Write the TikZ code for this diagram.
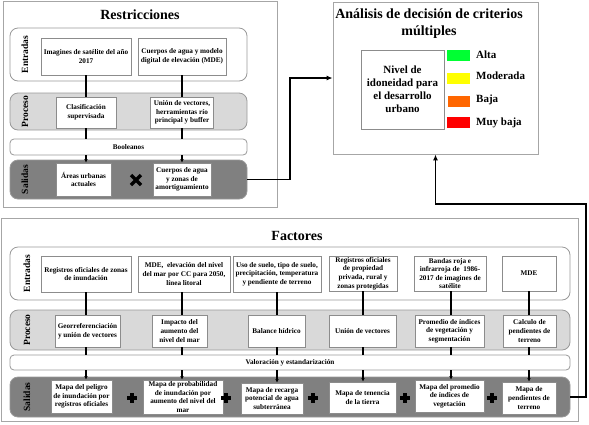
\documentclass[tikz,border=0pt]{standalone}
\usepackage{fontspec}
\setmainfont{Liberation Serif}
\usetikzlibrary{arrows.meta}
\begin{document}
\begin{tikzpicture}[x=1pt,y=-1pt,
  every node/.style={font=\bfseries},
  sm/.style={font=\fontsize{7.2}{8.6}\selectfont\bfseries, align=center},
  outerbox/.style={draw=black!35, line width=0.8pt, inner sep=0},
  band/.style={draw=black!40, line width=0.8pt, rounded corners=8pt, inner sep=0},
  entb/.style={band, fill=white},
  procb/.style={band, fill=black!15},
  salb/.style={band, fill=black!50},
  midb/.style={band, rounded corners=4pt, fill=white, sm},
  inbox/.style={draw=black!45, fill=white, line width=0.8pt, inner sep=1pt, sm},
  lab/.style={rotate=90, font=\fontsize{9.5}{11}\selectfont\bfseries},
  ttl/.style={font=\fontsize{14}{17}\selectfont\bfseries, align=center},
  mid/.style={font=\fontsize{11}{13}\selectfont\bfseries, align=center},
  swatch/.style={minimum width=23, minimum height=11, inner sep=0},
  link/.style={line width=1.2pt},
  arr/.style={line width=1.2pt, -{Latex[length=3.5pt,width=3.5pt]}},
  bigarr/.style={line width=1.5pt, -{Latex[length=6pt,width=5pt]}},
  sym/.style={line width=3.3pt},
]
\useasboundingbox (0,0) rectangle (589,424);

% ---------------- Restricciones ----------------
\node[outerbox, minimum width=274, minimum height=206] (R) at (140,104) {};
\node[ttl] (Rt) at (140,15) {Restricciones};
\node[entb, minimum width=237, minimum height=53] (REnt) at (128.5,54.5) {};
\node[procb, minimum width=237, minimum height=37] (RPro) at (128.5,111.5) {};
\node[midb, minimum width=237, minimum height=16] (RBool) at (128.5,147) {Booleanos};
\node[salb, minimum width=237, minimum height=39] (RSal) at (128.5,179.5) {};
\node[lab] (RlE) at (25,54.5) {Entradas};
\node[lab] (RlP) at (25,111.5) {Proceso};
\node[lab] (RlS) at (25,179.5) {Salidas};

\node[inbox, minimum width=90, minimum height=37] (RE1) at (86,56.5) {Imagines de satélite del año\\2017};
\node[inbox, minimum width=88, minimum height=37] (RE2) at (182,56.5) {Cuerpos de agua y modelo\\digital de elevación (MDE)};
\node[inbox, minimum width=60, minimum height=31] (RP1) at (86,112.5) {Clasificación\\supervisada};
\node[inbox, minimum width=63, minimum height=31] (RP2) at (182,112.5) {Unión de vectores,\\herramientas río\\principal y buffer};
\node[inbox, minimum width=55, minimum height=33] (RS1) at (83.5,179.5) {Áreas urbanas\\actuales};
\node[inbox, minimum width=58, minimum height=33] (RS2) at (182,179.5) {Cuerpos de agua\\y zonas de\\amortiguamiento};

\foreach \a/\b/\c in {RE1/RP1/RS1, RE2/RP2/RS2} {
  \draw[link] (\a.south) -- (\b.north);
  \draw[link] (\b.south) -- (\b.south |- RBool.north);
  \draw[arr] (\b.south |- RBool.south) -- (\b.south |- \c.north);
}
\draw[sym] (131,175) -- (141,185) (131,185) -- (141,175);

% ---------------- ADCM ----------------
\node[outerbox, minimum width=205, minimum height=152] (A) at (435.5,78) {};
\node[ttl] (At) at (429,23.5) {Análisis de decisión de criterios\\múltiples};
\node[draw=black!45, line width=0.8pt, mid, minimum width=83, minimum height=79, inner sep=0] (N) at (402.5,89.5) {Nivel de\\idoneidad para\\el desarrollo\\urbano};
\node[swatch, fill={rgb,255:red,0;green,255;blue,51}] (g) at (458.5,55.5) {};
\node[swatch, fill={rgb,255:red,255;green,255;blue,0}] (y) at (458.5,78) {};
\node[swatch, fill={rgb,255:red,255;green,102;blue,0}, minimum width=22] (o) at (459,101) {};
\node[swatch, fill={rgb,255:red,255;green,0;blue,0}] (r) at (458.5,122.5) {};
\node[mid, anchor=west, inner sep=0] (ga) at (476,55) {Alta};
\node[mid, anchor=west, inner sep=0] (ya) at (476,76) {Moderada};
\node[mid, anchor=west, inner sep=0] (oa) at (476,100) {Baja};
\node[mid, anchor=west, inner sep=0] (ra) at (476,123) {Muy baja};

% ---------------- Factores ----------------
\node[outerbox, minimum width=577, minimum height=203] (F) at (289.5,319.5) {};
\node[ttl] (Ft) at (297,236) {Factores};
\node[entb, minimum width=560, minimum height=53] (FEnt) at (290,273.5) {};
\node[procb, minimum width=560, minimum height=40] (FPro) at (290,330) {};
\node[midb, minimum width=560, minimum height=15] (FVal) at (290,362.5) {Valoración y estandarización};
\node[salb, minimum width=560, minimum height=40] (FSal) at (290,397) {};
\node[lab] (FlE) at (27,273.5) {Entradas};
\node[lab] (FlP) at (27,330) {Proceso};
\node[lab] (FlS) at (27,397) {Salidas};

\node[inbox, minimum width=90, minimum height=36] (FE1) at (86,274) {Registros oficiales de zonas\\de inundación};
\node[inbox, minimum width=92, minimum height=36] (FE2) at (184,274) {MDE,\ \ elevación del nivel\\del mar por CC para 2050,\\línea litoral};
\node[inbox, minimum width=88, minimum height=36] (FE3) at (277,274) {Uso de suelo, tipo de suelo,\\precipitación, temperatura\\y pendiente de terreno};
\node[inbox, minimum width=68, minimum height=35] (FE4) at (363,273.5) {Registros oficiales\\de propiedad\\privada, rural y\\zonas protegidas};
\node[inbox, minimum width=72, minimum height=35] (FE5) at (450,273.5) {Bandas roja e\\infrarroja de\ \ 1986-\\2017 de imagines de\\satélite};
\node[inbox, minimum width=54, minimum height=35] (FE6) at (529,273.5) {MDE};

\node[inbox, minimum width=65, minimum height=32] (FP1) at (87.5,331) {Georreferenciación\\y unión de vectores};
\node[inbox, minimum width=55, minimum height=32] (FP2) at (179.5,331) {Impacto del\\aumento del\\nivel del mar};
\node[inbox, minimum width=57, minimum height=32] (FP3) at (276.5,331) {Balance hídrico};
\node[inbox, minimum width=67, minimum height=32] (FP4) at (362.5,331) {Unión de vectores};
\node[inbox, minimum width=69, minimum height=32] (FP5) at (449.5,331) {Promedio de índices\\de vegetación y\\segmentación};
\node[inbox, minimum width=53, minimum height=32] (FP6) at (529.5,331) {Calculo de\\pendientes de\\terreno};

\node[inbox, minimum width=61, minimum height=33] (FS1) at (81.5,396.5) {Mapa del peligro\\de inundación por\\registros oficiales};
\node[inbox, minimum width=80, minimum height=34] (FS2) at (183,397) {Mapa de probabilidad\\de inundación por\\aumento del nivel del\\mar};
\node[inbox, minimum width=62, minimum height=31] (FS3) at (272,398.5) {Mapa de recarga\\potencial de agua\\subterránea};
\node[inbox, minimum width=67, minimum height=31] (FS4) at (362.5,397.5) {Mapa de tenencia\\de la tierra};
\node[inbox, minimum width=69, minimum height=32] (FS5) at (449.5,396) {Mapa del promedio\\de índices de\\vegetación};
\node[inbox, minimum width=54, minimum height=32] (FS6) at (529,398) {Mapa de\\pendientes de\\terreno};

\foreach \i/\x in {1/86,2/182,3/277,4/363,5/451,6/529} {
  \coordinate (c\i) at (\x,0);
  \draw[link] (c\i |- FE\i.south) -- (c\i |- FP\i.north);
  \draw[link] (c\i |- FP\i.south) -- (c\i |- FVal.north);
  \draw[arr] (c\i |- FVal.south) -- (c\i |- FS\i.north);
}
\foreach \x in {132,226,313,405,492} {
  \draw[sym] (\x-4.8,398) -- (\x+4.8,398) (\x,393.2) -- (\x,402.8);
}

% ---------------- Connectors ----------------
\coordinate (rj) at (290,100);
\draw[bigarr] (RSal.east) -- (RSal.east -| rj) -- (rj |- A.west) -- (A.west);
\coordinate (fj) at (586,204);
\draw[bigarr] (FSal.east) -- (FSal.east -| fj) -- (fj) -- (fj -| A.south) -- (A.south);
\end{tikzpicture}
\end{document}
